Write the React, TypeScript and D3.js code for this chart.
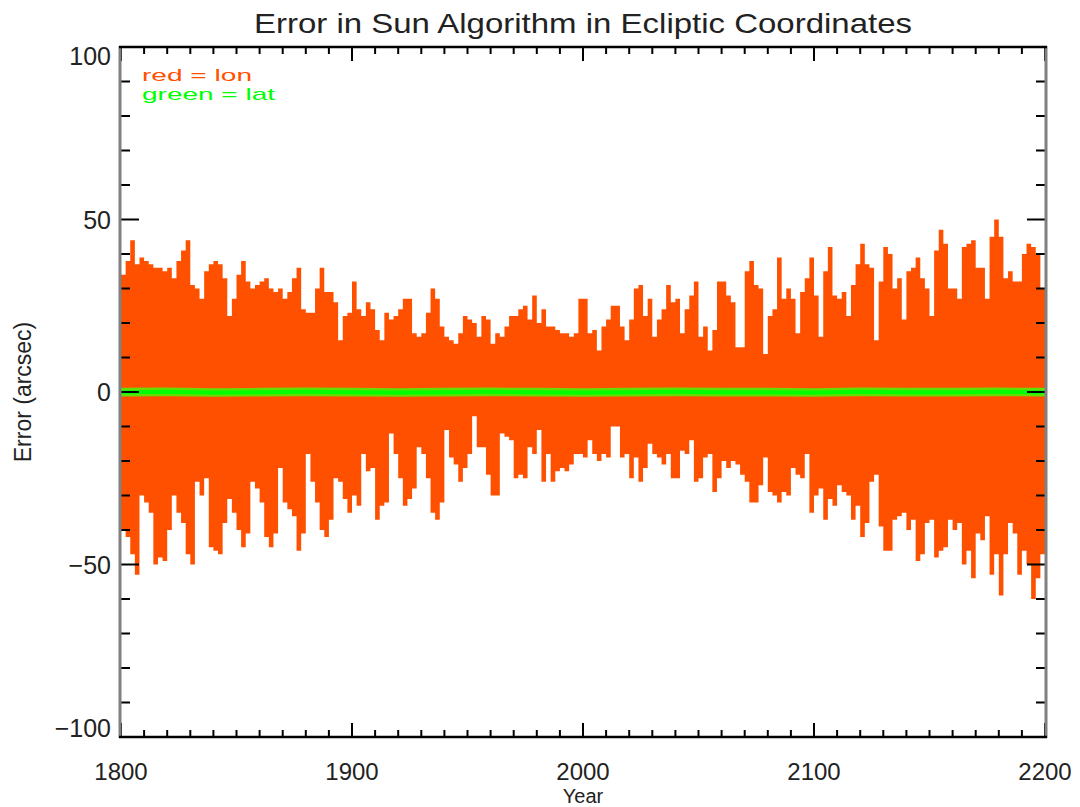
import React from 'react';
import * as d3 from 'd3';

// ---- Data (2-year bins, envelope of the longitude error in arcsec) ----
const startYear = 1800;
const binYears = 2;

const lonMax1800s = [
  34, 38, 44, 37, 39, 38, 37, 36, 36, 35,
  36, 33, 38, 41, 44, 31, 30, 27, 35, 37,
  38, 37, 33, 22, 27, 34, 38, 32, 30, 31,
  32, 33, 30, 29, 30, 27, 29, 33, 36, 24,
  23, 23, 30, 36, 29, 29, 26, 15, 22, 23,
];
const lonMax1900s = [
  32, 24, 22, 26, 24, 18, 15, 23, 21, 22,
  24, 27, 27, 17, 16, 17, 23, 30, 27, 19,
  16, 15, 14, 17, 22, 21, 20, 16, 22, 21,
  14, 17, 16, 19, 22, 22, 24, 25, 21, 28,
  20, 24, 19, 19, 18, 17, 17, 16, 17, 27,
];
const lonMax2000s = [
  27, 17, 18, 12, 19, 21, 25, 25, 19, 15,
  21, 30, 31, 22, 27, 16, 21, 24, 31, 26,
  27, 17, 24, 28, 32, 16, 19, 12, 18, 32,
  32, 28, 26, 13, 13, 35, 38, 31, 30, 11,
  22, 24, 39, 27, 30, 27, 17, 29, 33, 39,
];
const lonMax2100s = [
  28, 16, 35, 42, 28, 27, 29, 22, 31, 37,
  43, 37, 36, 15, 32, 42, 40, 30, 33, 21,
  35, 36, 39, 33, 30, 22, 41, 47, 43, 30,
  30, 27, 42, 43, 44, 36, 36, 27, 45, 50,
  45, 33, 35, 32, 32, 40, 43, 42, 40, 30,
];

const lonMin1800s = [
  -40, -42, -47, -53, -30, -32, -35, -50, -48, -49,
  -40, -30, -35, -38, -47, -50, -26, -30, -25, -45,
  -46, -47, -38, -31, -35, -40, -45, -41, -26, -28,
  -32, -42, -45, -41, -22, -32, -34, -36, -46, -41,
  -18, -26, -32, -40, -42, -37, -25, -26, -31, -35,
];
const lonMin1900s = [
  -30, -33, -18, -23, -22, -37, -33, -32, -12, -18,
  -25, -33, -31, -28, -16, -18, -25, -35, -37, -32,
  -11, -19, -21, -26, -22, -18, -7, -16, -16, -24,
  -30, -30, -12, -13, -14, -25, -24, -25, -16, -18,
  -11, -26, -18, -26, -23, -22, -23, -21, -18, -18,
];
const lonMin2000s = [
  -19, -14, -18, -20, -18, -19, -10, -10, -19, -18,
  -25, -19, -26, -22, -15, -18, -19, -21, -18, -25,
  -25, -17, -18, -14, -26, -25, -19, -18, -29, -25,
  -20, -22, -20, -21, -24, -26, -32, -32, -27, -19,
  -29, -30, -32, -29, -30, -22, -24, -25, -18, -35,
];
const lonMin2100s = [
  -30, -28, -37, -31, -33, -27, -29, -30, -37, -33,
  -42, -38, -26, -24, -39, -46, -46, -37, -36, -35,
  -40, -37, -49, -47, -38, -37, -48, -46, -45, -37,
  -40, -38, -50, -46, -54, -41, -43, -36, -53, -47,
  -59, -47, -38, -41, -53, -46, -50, -60, -54, -47,
];

// latitude error envelope, 20-year bins
const latStep = 20;
const latMax = [1.2, 1.3, 1.1, 1.2, 1.3, 1.2, 1.1, 1.2, 1.3, 1.2, 1.1, 1.2, 1.3, 1.2, 1.2, 1.1, 1.3, 1.2, 1.2, 1.3, 1.2];
const latMin = [-1.3, -1.2, -1.4, -1.3, -1.2, -1.3, -1.4, -1.3, -1.2, -1.3, -1.4, -1.3, -1.2, -1.3, -1.3, -1.4, -1.2, -1.3, -1.3, -1.2, -1.3];

const xTickLabels = [1800, 1900, 2000, 2100, 2200];
const yTickLabels = [-100, -50, 0, 50, 100];

const titleText = 'Error in Sun Algorithm in Ecliptic Coordinates';
const xTitle = 'Year';
const yTitle = 'Error (arcsec)';
const legendItems = [
  { label: 'red = lon', color: '#ff5000' },
  { label: 'green = lat', color: '#00ff00' },
];

// ---- Layout ----
const W = 1080;
const H = 807;
const L = 121;
const R = 1045;
const T = 47;
const B = 737;
const FONT = '"Liberation Sans", Arial, Helvetica, sans-serif';

export default function App() {
  const x = d3.scaleLinear().domain([1800, 2200]).range([L, R]);
  const y = d3.scaleLinear().domain([-100, 100]).range([B, T]);

  const lonMax = [...lonMax1800s, ...lonMax1900s, ...lonMax2000s, ...lonMax2100s];
  const lonMin = [...lonMin1800s, ...lonMin1900s, ...lonMin2000s, ...lonMin2100s];
  const lonData = lonMax.map((hi, i) => ({ year: startYear + i * binYears, hi, lo: lonMin[i] }));
  const last = lonData[lonData.length - 1];
  lonData.push({ year: 2200, hi: last.hi, lo: last.lo });

  const lonArea = d3
    .area<{ year: number; hi: number; lo: number }>()
    .x((d) => x(d.year))
    .y0((d) => y(d.lo))
    .y1((d) => y(d.hi))
    .curve(d3.curveStepAfter);

  const latData = latMax.map((hi, i) => ({ year: startYear + i * latStep, hi, lo: latMin[i] }));
  const latArea = d3
    .area<{ year: number; hi: number; lo: number }>()
    .x((d) => x(d.year))
    .y0((d) => y(d.lo))
    .y1((d) => y(d.hi))
    .curve(d3.curveLinear);
  const latLine = d3
    .line<{ year: number; hi: number; lo: number }>()
    .x((d) => x(d.year))
    .y((d) => y((d.hi + d.lo) / 2));

  const xMinor = d3.range(1800, 2201, 10);
  const yMinor = d3.range(-100, 101, 10);
  const yLen = (v: number) => (v % 50 === 0 ? 18 : 9);
  const xLen = (v: number) => (v % 100 === 0 ? 14 : 7);

  return (
    <div style={{ position: 'absolute', left: 0, top: 0, width: W, height: H, background: '#fff' }}>
      <svg width={W} height={H} style={{ display: 'block' }}>
        <rect x={0} y={0} width={W} height={H} fill="#fff" />
        <text
          x={(L + R) / 2}
          y={33}
          textAnchor="middle"
          fontFamily={FONT}
          fontSize={28}
          fill="#222"
          textLength={658}
          lengthAdjust="spacingAndGlyphs"
        >
          {titleText}
        </text>

        <path d={lonArea(lonData) || ''} fill="#ff5000" />
        <path d={latArea(latData) || ''} fill="#66dd00" />
        <path d={latLine(latData) || ''} fill="none" stroke="#00ff00" strokeWidth={4} />

        {/* ticks */}
        {yMinor.map((v) => (
          <g key={'yt' + v}>
            <line x1={L} x2={L + yLen(v)} y1={y(v)} y2={y(v)} stroke="#000" strokeWidth={2} />
            <line x1={R} x2={R - yLen(v)} y1={y(v)} y2={y(v)} stroke="#000" strokeWidth={2} />
          </g>
        ))}
        {xMinor.map((v) => (
          <g key={'xt' + v}>
            <line x1={x(v)} x2={x(v)} y1={B} y2={B - xLen(v)} stroke="#000" strokeWidth={2} />
            <line x1={x(v)} x2={x(v)} y1={T} y2={T + xLen(v)} stroke="#000" strokeWidth={2} />
          </g>
        ))}

        {/* frame */}
        <line x1={L - 1} x2={L - 1} y1={T - 1} y2={B + 1} stroke="#808080" strokeWidth={3} />
        <line x1={R + 1} x2={R + 1} y1={T - 1} y2={B + 1} stroke="#808080" strokeWidth={3} />
        <line x1={L - 2} x2={R + 2} y1={T} y2={T} stroke="#000" strokeWidth={2.5} />
        <line x1={L - 2} x2={R + 2} y1={B} y2={B} stroke="#000" strokeWidth={2.5} />

        {/* y labels */}
        {yTickLabels.map((v) => {
          const cy = Math.min(Math.max(y(v), T + 9), B - 9);
          return (
            <text
              key={'yl' + v}
              x={111}
              y={cy}
              dy="0.36em"
              textAnchor="end"
              fontFamily={FONT}
              fontSize={25}
              fill="#222"
            >
              {v < 0 ? '\u2212' + Math.abs(v) : String(v)}
            </text>
          );
        })}

        {/* x labels */}
        {xTickLabels.map((v) => (
          <text
            key={'xl' + v}
            x={x(v)}
            y={780}
            textAnchor="middle"
            fontFamily={FONT}
            fontSize={24}
            fill="#222"
          >
            {String(v)}
          </text>
        ))}

        <text x={(L + R) / 2} y={803} textAnchor="middle" fontFamily={FONT} fontSize={20} fill="#222">
          {xTitle}
        </text>
        <text
          transform={`translate(31,${(T + B) / 2}) rotate(-90)`}
          textAnchor="middle"
          fontFamily={FONT}
          fontSize={23}
          fill="#222"
        >
          {yTitle}
        </text>

        {/* legend */}
        {legendItems.map((item, i) => (
          <text
            key={item.label}
            x={142}
            y={81 + i * 19}
            fontFamily={FONT}
            fontSize={17}
            fill={item.color}
            textLength={i === 0 ? 110 : 133}
            lengthAdjust="spacingAndGlyphs"
          >
            {item.label}
          </text>
        ))}
      </svg>
    </div>
  );
}
